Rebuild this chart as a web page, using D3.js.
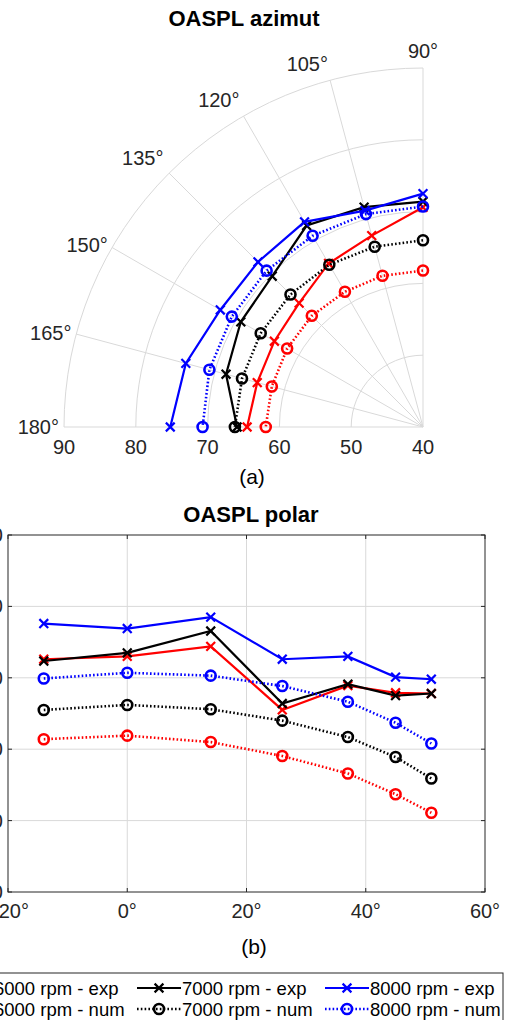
<!DOCTYPE html>
<html>
<head>
<meta charset="utf-8">
<script src="https://cdn.jsdelivr.net/npm/d3@7"></script>
<style>
  html, body { margin: 0; padding: 0; background: #fff; }
  svg { display: block; }
  text { font-family: "Liberation Sans", Arial, Helvetica, sans-serif; }
</style>
</head>
<body>
<svg id="fig" width="506" height="1020"></svg>
<script>
// ---------- data ----------
// Azimuthal directivity (deg) and OASPL (dB)
const azAngles = [90, 105, 120, 135, 150, 165, 180];
const az6000exp = [70.6, 67.6, 66.3, 64.4, 63.9, 63.9, 64.5];
const az7000exp = [71.4, 71.7, 72.4, 69.7, 69.3, 68.4, 65.9];
const az8000exp = [72.5, 71.2, 73.0, 72.5, 72.6, 74.2, 75.2];
const az6000num = [61.8, 61.8, 61.75, 61.9, 61.85, 61.8, 61.9];
const az7000num = [66.0, 66.0, 66.1, 66.1, 66.1, 66.1, 66.2];
const az8000num = [70.7, 70.7, 70.75, 70.8, 70.75, 70.8, 70.7];

// Polar directivity (deg) and OASPL (dB)
const polAngles = [-14, 0, 14, 26, 37, 45, 51];
const pol6000exp = [72.6, 73.0, 74.4, 65.5, 68.9, 67.9, 67.8];
const pol7000exp = [72.35, 73.5, 76.55, 66.4, 69.1, 67.5, 67.8];
const pol8000exp = [77.6, 76.9, 78.5, 72.6, 73.0, 70.1, 69.8];
const pol6000num = [61.4, 61.9, 61.0, 59.05, 56.6, 53.7, 51.1];
const pol7000num = [65.5, 66.2, 65.6, 64.0, 61.7, 58.9, 55.9];
const pol8000num = [69.9, 70.7, 70.3, 68.85, 66.65, 63.7, 60.8];

// axis ticks
const thetaTicks = [90, 105, 120, 135, 150, 165, 180];
const rTicks = [40, 50, 60, 70, 80, 90];
const xTicks = [-20, 0, 20, 40, 60];
const yTicks = [40, 50, 60, 70, 80, 90];

const seriesNames = ["6000 rpm - exp", "6000 rpm - num", "7000 rpm - exp",
                     "7000 rpm - num", "8000 rpm - exp", "8000 rpm - num"];
const seriesColors = ["#ff0000", "#ff0000", "#000000", "#000000", "#0000ff", "#0000ff"];
const seriesKinds = ["exp", "num", "exp", "num", "exp", "num"];
const azSeries = [az6000exp, az6000num, az7000exp, az7000num, az8000exp, az8000num];
const polSeries = [pol6000exp, pol6000num, pol7000exp, pol7000num, pol8000exp, pol8000num];

// ---------- helpers ----------
const svg = d3.select("#fig");
const GRID = "#d9d9d9";
const LABEL = "#262626";
const TICK_FS = 20;
const degSign = "\u00b0";
const fmtDeg = d => (d < 0 ? "\u2212" + Math.abs(d) : d) + degSign;

function drawMarker(g, kind, color, x, y) {
  if (kind === "exp") {
    const s = 4.4;
    g.append("path")
      .attr("d", `M${x - s},${y - s}L${x + s},${y + s}M${x - s},${y + s}L${x + s},${y - s}`)
      .attr("stroke", color).attr("stroke-width", 2.2).attr("fill", "none");
  } else {
    g.append("circle").attr("cx", x).attr("cy", y).attr("r", 5)
      .attr("stroke", color).attr("stroke-width", 2.6).attr("fill", "none");
  }
}
function lineStyle(sel, kind, color) {
  sel.attr("fill", "none").attr("stroke", color)
    .attr("stroke-width", kind === "exp" ? 2.2 : 2.6)
    .attr("stroke-dasharray", kind === "exp" ? null : "1.6,2.2");
}

// ---------- (a) OASPL azimut : polar quadrant ----------
const cx = 423, cy = 427, R = 359;
const rScale = d3.scaleLinear().domain([40, 90]).range([0, R]);
// math angle (deg, counter-clockwise from east) -> d3 radial angle (clockwise from north)
const aScale = d3.scaleLinear().domain([90, 180]).range([0, -Math.PI / 2]);
const polarXY = (deg, r) => [cx + r * Math.sin(aScale(deg)), cy - r * Math.cos(aScale(deg))];

const gA = svg.append("g");
gA.append("text").attr("x", 244).attr("y", 26).attr("text-anchor", "middle")
  .attr("font-size", 22).attr("font-weight", "bold").attr("fill", "#000").text("OASPL azimut");

// grid arcs
rTicks.filter(v => v > 40).forEach(v => {
  const p = d3.path();
  p.arc(cx, cy, rScale(v), -Math.PI / 2, -Math.PI, true);
  gA.append("path").attr("d", p.toString()).attr("fill", "none")
    .attr("stroke", GRID).attr("stroke-width", 1);
});
// spokes
thetaTicks.forEach(t => {
  const [x, y] = polarXY(t, R);
  gA.append("line").attr("x1", cx).attr("y1", cy).attr("x2", x).attr("y2", y)
    .attr("stroke", GRID).attr("stroke-width", 1);
});
// theta labels
thetaTicks.forEach(t => {
  const side = Math.sin(t * Math.PI / 180);
  const off = side >= 0.5 ? 8 : 5;
  const [x, y] = polarXY(t, R + off);
  const anchor = t === 90 ? "middle" : "end";
  const yy = side >= 0.5 ? y - 2 : y + 7;
  gA.append("text").attr("x", x).attr("y", yy).attr("text-anchor", anchor)
    .attr("font-size", TICK_FS).attr("fill", LABEL).text(t + degSign);
});
// r labels along the 180 deg edge
rTicks.forEach(v => {
  gA.append("text").attr("x", cx - rScale(v)).attr("y", cy + 27).attr("text-anchor", "middle")
    .attr("font-size", TICK_FS).attr("fill", LABEL).text(v);
});
gA.append("text").attr("x", 252).attr("y", 484).attr("text-anchor", "middle")
  .attr("font-size", 21).attr("font-family", "Liberation Serif, Times New Roman, serif")
  .attr("fill", "#000").text("(a)");

const radial = d3.lineRadial().angle(d => aScale(d[0])).radius(d => rScale(d[1]));
azSeries.forEach((vals, i) => {
  const pts = azAngles.map((a, j) => [a, vals[j]]);
  const g = gA.append("g");
  g.append("path").attr("transform", `translate(${cx},${cy})`).attr("d", radial(pts))
    .call(lineStyle, seriesKinds[i], seriesColors[i]);
  pts.forEach(p => {
    const [x, y] = polarXY(p[0], rScale(p[1]));
    drawMarker(g, seriesKinds[i], seriesColors[i], x, y);
  });
});

// ---------- (b) OASPL polar : cartesian ----------
const x0 = 8, x1 = 485, y0 = 892, y1 = 535;
const xS = d3.scaleLinear().domain([-20, 60]).range([x0, x1]);
const yS = d3.scaleLinear().domain([40, 90]).range([y0, y1]);
const gB = svg.append("g");
gB.append("text").attr("x", 251).attr("y", 522).attr("text-anchor", "middle")
  .attr("font-size", 22).attr("font-weight", "bold").attr("fill", "#000").text("OASPL polar");

// grid
xTicks.slice(1, -1).forEach(t => {
  gB.append("line").attr("x1", xS(t)).attr("x2", xS(t)).attr("y1", y1).attr("y2", y0)
    .attr("stroke", GRID).attr("stroke-width", 1);
});
yTicks.slice(1, -1).forEach(t => {
  gB.append("line").attr("x1", x0).attr("x2", x1).attr("y1", yS(t)).attr("y2", yS(t))
    .attr("stroke", GRID).attr("stroke-width", 1);
});
// box
gB.append("rect").attr("x", x0).attr("y", y1).attr("width", x1 - x0).attr("height", y0 - y1)
  .attr("fill", "none").attr("stroke", LABEL).attr("stroke-width", 1);
// tick marks (inside, all four sides)
const tl = 4;
xTicks.forEach(t => {
  gB.append("line").attr("x1", xS(t)).attr("x2", xS(t)).attr("y1", y0).attr("y2", y0 - tl).attr("stroke", LABEL);
  gB.append("line").attr("x1", xS(t)).attr("x2", xS(t)).attr("y1", y1).attr("y2", y1 + tl).attr("stroke", LABEL);
});
yTicks.forEach(t => {
  gB.append("line").attr("x1", x0).attr("x2", x0 + tl).attr("y1", yS(t)).attr("y2", yS(t)).attr("stroke", LABEL);
  gB.append("line").attr("x1", x1).attr("x2", x1 - tl).attr("y1", yS(t)).attr("y2", yS(t)).attr("stroke", LABEL);
});
// tick labels
xTicks.forEach(t => {
  gB.append("text").attr("x", xS(t)).attr("y", y0 + 26).attr("text-anchor", "middle")
    .attr("font-size", TICK_FS).attr("fill", LABEL).text(fmtDeg(t));
});
yTicks.forEach(t => {
  gB.append("text").attr("x", x0 - 5).attr("y", yS(t) + 7).attr("text-anchor", "end")
    .attr("font-size", TICK_FS).attr("fill", LABEL).text(t);
});
gB.append("text").attr("x", 254).attr("y", 954).attr("text-anchor", "middle")
  .attr("font-size", 21).attr("font-family", "Liberation Serif, Times New Roman, serif")
  .attr("fill", "#000").text("(b)");

const line = d3.line().x(d => xS(d[0])).y(d => yS(d[1]));
polSeries.forEach((vals, i) => {
  const pts = polAngles.map((a, j) => [a, vals[j]]);
  const g = gB.append("g");
  g.append("path").attr("d", line(pts)).call(lineStyle, seriesKinds[i], seriesColors[i]);
  pts.forEach(p => drawMarker(g, seriesKinds[i], seriesColors[i], xS(p[0]), yS(p[1])));
});

// ---------- legend (3 columns x 2 rows) ----------
const gL = svg.append("g");
const legLeft = -60, legRight = 503, legTop = 973;
gL.append("rect").attr("x", legLeft).attr("y", legTop).attr("width", legRight - legLeft).attr("height", 80)
  .attr("fill", "#fff").attr("stroke", LABEL).attr("stroke-width", 1);
const colX = d3.scaleLinear().domain([0, 1]).range([-51, 137]);
const rowY = [988, 1009];
seriesNames.forEach((name, i) => {
  const col = Math.floor(i / 2), row = i % 2;
  const lx = colX(col), ly = rowY[row];
  const g = gL.append("g");
  g.append("line").attr("x1", lx).attr("x2", lx + 44).attr("y1", ly).attr("y2", ly)
    .call(lineStyle, seriesKinds[i], seriesColors[i]);
  drawMarker(g, seriesKinds[i], seriesColors[i], lx + 22, ly);
  g.append("text").attr("x", lx + 45).attr("y", ly + 7).attr("font-size", 18.5)
    .attr("fill", "#000").text(name);
});
</script>
</body>
</html>
